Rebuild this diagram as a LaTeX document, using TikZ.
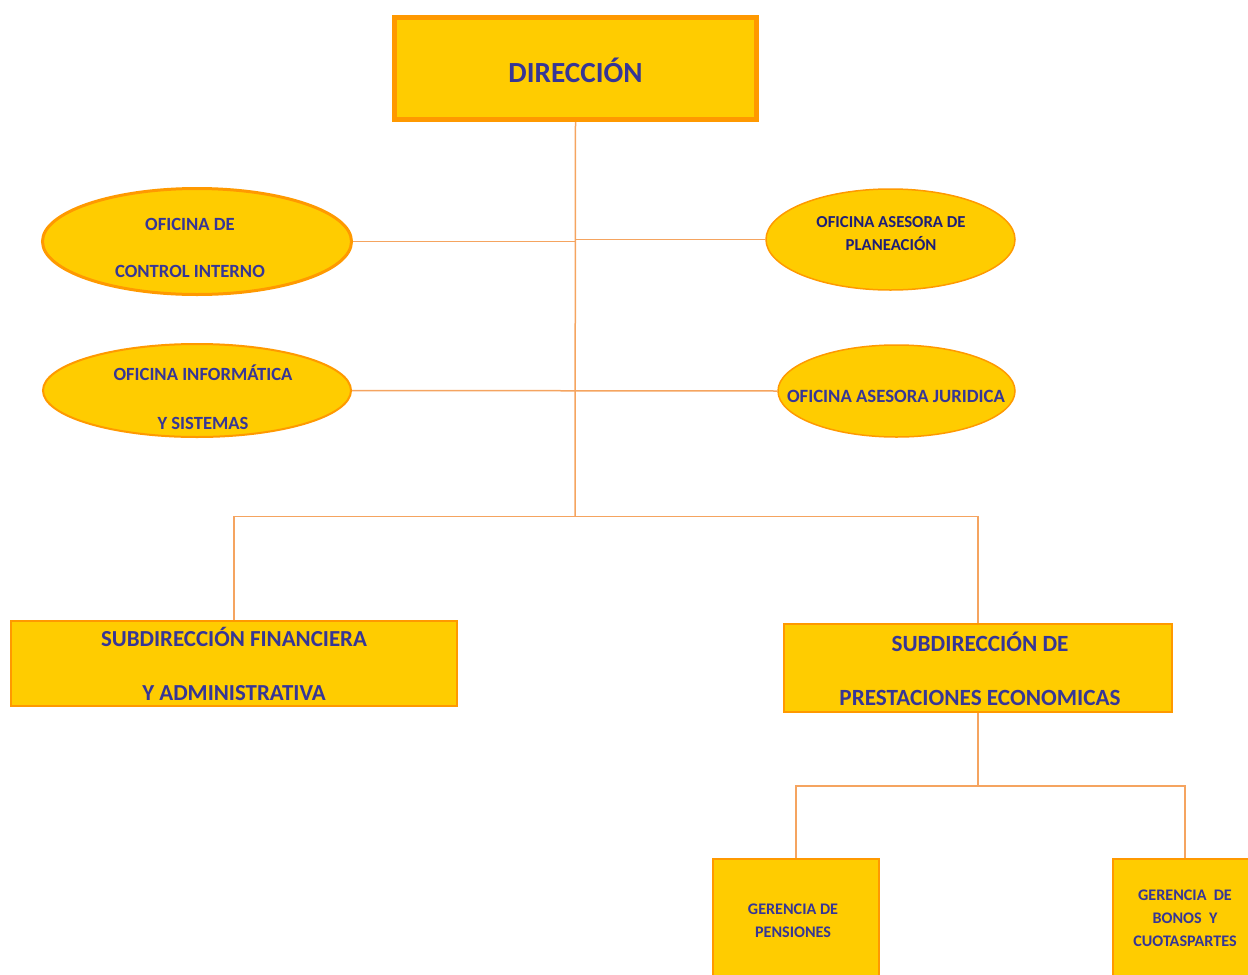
\documentclass[tikz,border=0pt]{standalone}
\usepackage{fontspec}
\setmainfont{Carlito}
\usetikzlibrary{shapes.geometric}
\definecolor{fillY}{HTML}{FFCC00}
\definecolor{bord}{HTML}{FF9900}
\definecolor{lin}{HTML}{F5A460}
\definecolor{txt}{HTML}{363696}
\definecolor{txtd}{HTML}{1E1E78}
\begin{document}
\begin{tikzpicture}[x=1bp,y=-1bp,
  box/.style={draw=bord, fill=fillY, line width=2bp, inner sep=0pt, rectangle},
  oval/.style={draw=bord, fill=fillY, line width=1.5bp, ellipse, inner sep=0pt},
  lbl/.style={text=txt, font=\bfseries, align=center, inner sep=0pt},
  conn/.style={draw=lin, line width=1.5bp}]
\useasboundingbox (0,0) rectangle (1248,975);
\clip (0,0) rectangle (1248,975);
% shapes
\node[box, line width=5bp, minimum width=362bp, minimum height=102bp] (dir) at (575.5,68.5) {};
\node[oval, line width=3bp, minimum width=309bp, minimum height=106bp] (e1) at (197,241.5) {};
\node[oval, minimum width=249bp, minimum height=101bp] (e2) at (890.5,239.5) {};
\node[oval, line width=2bp, minimum width=308bp, minimum height=93bp] (e3) at (197,390.5) {};
\node[oval, minimum width=237bp, minimum height=92bp] (e4) at (896.5,391) {};
\node[box, minimum width=446bp, minimum height=85bp] (sf) at (234,663.5) {};
\node[box, minimum width=388bp, minimum height=88bp] (sp) at (978,668) {};
\node[box, minimum width=166bp, minimum height=132bp] (gp) at (796,925) {};
\node[box, minimum width=144bp, minimum height=132bp] (gb) at (1185,925) {};
% texts
\node[lbl, font=\bfseries\fontsize{29.3}{30}\selectfont] (dirT) at (575.5,70) {DIRECCIÓN};
\node[lbl, font=\bfseries\fontsize{18.7}{48}\selectfont] (e1T) at (190,248) {OFICINA DE\\CONTROL INTERNO};
\node[lbl, text=txtd, font=\bfseries\fontsize{16.8}{23}\selectfont] (e2T) at (891,233.5) {OFICINA ASESORA DE\\PLANEACIÓN};
\node[lbl, font=\bfseries\fontsize{18.7}{49}\selectfont] (e3T) at (203,397.5) {OFICINA INFORMÁTICA\\Y SISTEMAS};
\node[lbl, font=\bfseries\fontsize{18.8}{20}\selectfont] (e4T) at (896,396) {OFICINA ASESORA JURIDICA};
\node[lbl, font=\bfseries\fontsize{23}{54}\selectfont] (sfT) at (234,664) {SUBDIRECCIÓN FINANCIERA\\Y ADMINISTRATIVA};
\node[lbl, font=\bfseries\fontsize{23.3}{54}\selectfont] (spT) at (980,669) {SUBDIRECCIÓN DE\\PRESTACIONES ECONOMICAS};
\node[lbl, font=\bfseries\fontsize{16.2}{23}\selectfont] (gpT) at (793,920.5) {GERENCIA DE\\PENSIONES};
\node[lbl, font=\bfseries\fontsize{16.2}{23}\selectfont] (gbT) at (1185,918) {GERENCIA\ \ DE\\BONOS\ \ Y\\CUOTASPARTES};
% connectors
\coordinate (hub) at (575,516.5);
\coordinate (hub2) at (978,786);
\draw[conn] (dir.south) -- (hub);
\draw[conn] (e1.east) -- (dir.south |- e1.east);
\draw[conn] (dir.south |- e2.west) -- (e2.west);
\draw[conn] (e3.east) -- (e4.west);
\draw[conn] (hub) -| (sf.north);
\draw[conn] (hub) -| (sp.north);
\draw[conn] (sp.south) -- (hub2);
\draw[conn] (hub2) -| (gp.north);
\draw[conn] (hub2) -| (gb.north);
\end{tikzpicture}
\end{document}
